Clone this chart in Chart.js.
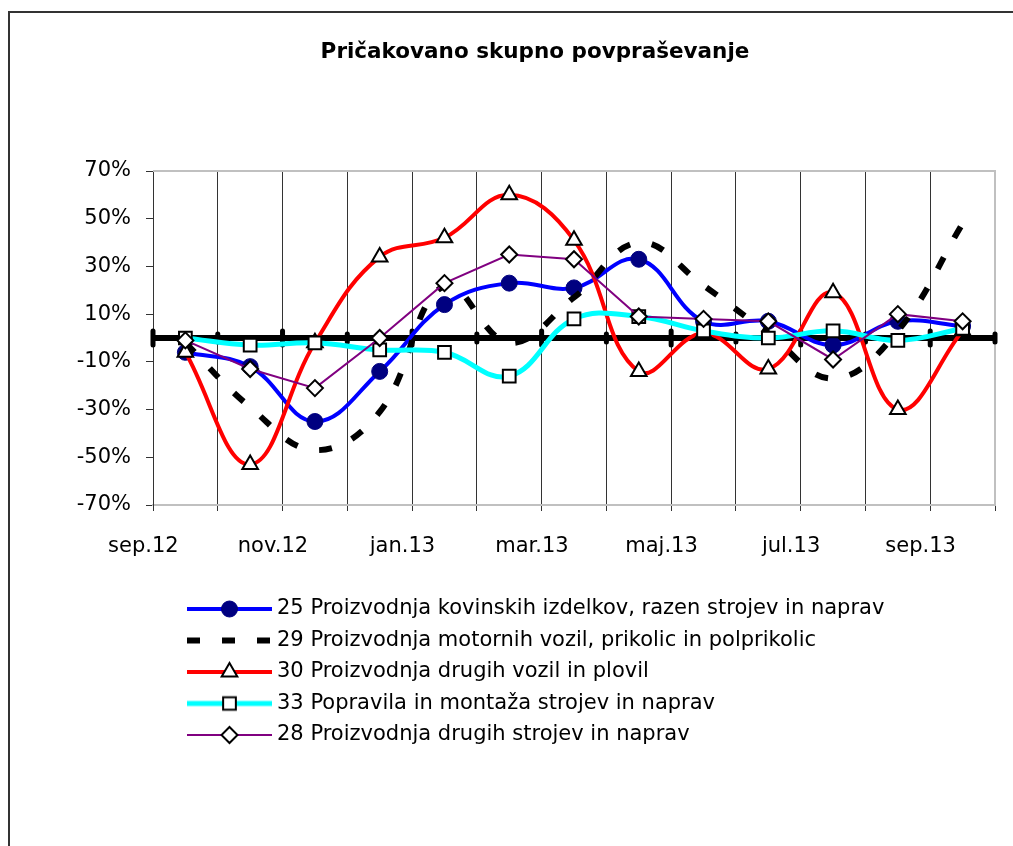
<!DOCTYPE html>
<html>
<head>
<meta charset="utf-8">
<script src="https://cdn.jsdelivr.net/npm/chart.js@4/dist/chart.umd.min.js"></script>
<style>
  html, body { margin: 0; padding: 0; background: #fff; overflow: hidden; }
  #frame { position: absolute; left: 8px; top: 11px; width: 1100px; height: 900px;
           border: 2px solid #333; pointer-events: none; }
  #myChart { position: absolute; left: 0; top: 0; }
</style>
</head>
<body>
<canvas id="myChart" width="1070" height="846"></canvas>
<div id="frame"></div>
<script>
var months = ['sep.12', 'okt.12', 'nov.12', 'dec.12', 'jan.13', 'feb.13', 'mar.13',
              'apr.13', 'maj.13', 'jun.13', 'jul.13', 'avg.13', 'sep.13'];
var kovinski25 = [-6, -12, -35, -14, 14, 23, 21, 33, 7, 7, -3, 7, 5];
var motorna29 = [-2, -29, -47, -31, 22, -2, 17, 40, 22, 2, -17, 3, 48];
var vozila30 = [-6, -53, -2, 34, 42, 60, 41, -14, 2, -13, 19, -30, 3];
var popravila33 = [0, -3, -2, -5, -6, -16, 8, 9, 3, 0, 3, -1, 4];
var stroji28 = [-1, -13, -21, 0, 23, 35, 33, 9, 8, 7, -9, 10, 7];

Chart.defaults.font.family = "'DejaVu Sans', Verdana, sans-serif";
Chart.defaults.font.size = 21;
Chart.defaults.color = '#000';

var datasets = [{
    label: '25 Proizvodnja kovinskih izdelkov, razen strojev in naprav',
    data: kovinski25,
    borderColor: '#0000ff',
    borderWidth: 4,
    tension: 0.4,
    pointStyle: 'circle',
    pointRadius: 8,
    pointBackgroundColor: '#000080',
    pointBorderColor: '#000080',
    pointBorderWidth: 1,
    order: 5
}, {
    label: '29 Proizvodnja motornih vozil, prikolic in polprikolic',
    data: motorna29,
    borderColor: '#000000',
    borderWidth: 6,
    borderDash: [13, 22],
    tension: 0.4,
    pointRadius: 0,
    order: 4
}, {
    label: '30 Proizvodnja drugih vozil in plovil',
    data: vozila30,
    borderColor: '#ff0000',
    borderWidth: 4,
    tension: 0.4,
    pointStyle: 'triangle',
    pointRadius: 9,
    pointBackgroundColor: '#ffffff',
    pointBorderColor: '#000000',
    pointBorderWidth: 2,
    order: 3
}, {
    label: '33 Popravila in montaža strojev in naprav',
    data: popravila33,
    borderColor: '#00ffff',
    borderWidth: 5,
    tension: 0.4,
    pointStyle: 'rect',
    pointRadius: 9,
    pointBackgroundColor: '#ffffff',
    pointBorderColor: '#000000',
    pointBorderWidth: 2,
    order: 2
}, {
    label: '28 Proizvodnja drugih strojev in naprav',
    data: stroji28,
    borderColor: '#800080',
    borderWidth: 2,
    tension: 0,
    pointStyle: 'rectRot',
    pointRadius: 8,
    pointBackgroundColor: '#ffffff',
    pointBorderColor: '#000000',
    pointBorderWidth: 2,
    order: 1
}];

// legend sample: line with marker in the middle, like excel
function makeIcon(ds) {
    var c = document.createElement('canvas');
    c.width = 114;
    c.height = 24;
    var g = c.getContext('2d');
    g.strokeStyle = ds.borderColor;
    g.lineWidth = ds.borderWidth;
    g.setLineDash(ds.borderDash || []);
    g.beginPath();
    g.moveTo(29, 12);
    g.lineTo(114, 12);
    g.stroke();
    g.setLineDash([]);
    if (!ds.pointRadius) return c;
    var cx = 71.5, cy = 12, r = ds.pointRadius;
    g.fillStyle = ds.pointBackgroundColor;
    g.strokeStyle = ds.pointBorderColor;
    g.lineWidth = ds.pointBorderWidth;
    g.beginPath();
    if (ds.pointStyle === 'circle') {
        g.arc(cx, cy, r, 0, Math.PI * 2);
    } else if (ds.pointStyle === 'triangle') {
        g.moveTo(cx, cy - r);
        g.lineTo(cx + r * Math.sin(Math.PI * 2 / 3), cy - r * Math.cos(Math.PI * 2 / 3));
        g.lineTo(cx + r * Math.sin(Math.PI * 4 / 3), cy - r * Math.cos(Math.PI * 4 / 3));
    } else if (ds.pointStyle === 'rect') {
        var s = r * Math.SQRT1_2;
        g.rect(cx - s, cy - s, 2 * s, 2 * s);
    } else {
        g.moveTo(cx, cy - r);
        g.lineTo(cx + r, cy);
        g.lineTo(cx, cy + r);
        g.lineTo(cx - r, cy);
    }
    g.closePath();
    g.fill();
    g.stroke();
    return c;
}
var icons = datasets.map(makeIcon);

// thick zero line with the crossing tick marks and the grey plot border
var excelAxis = {
    id: 'excelAxis',
    beforeDatasetsDraw: function(chart) {
        var ctx = chart.ctx, a = chart.chartArea;
        var x = chart.scales.x, y = chart.scales.y;
        ctx.save();
        ctx.strokeStyle = '#c0c0c0';
        ctx.lineWidth = 2;
        ctx.beginPath();
        ctx.moveTo(a.left, a.top);
        ctx.lineTo(a.right, a.top);
        ctx.lineTo(a.right, a.bottom);
        ctx.stroke();

        var y0 = y.getPixelForValue(0);
        ctx.strokeStyle = '#000';
        ctx.lineWidth = 6;
        ctx.beginPath();
        ctx.moveTo(a.left, y0);
        ctx.lineTo(a.right, y0);
        ctx.stroke();

        var step = x.getPixelForValue(1) - x.getPixelForValue(0);
        ctx.lineWidth = 5;
        ctx.lineCap = 'round';
        for (var i = 0; i <= months.length; i++) {
            var bx = x.getPixelForValue(0) - step / 2 + i * step;
            var h = i % 2 === 0 ? 7 : 4;
            ctx.beginPath();
            ctx.moveTo(bx, y0 - h);
            ctx.lineTo(bx, y0 + h);
            ctx.stroke();
        }
        ctx.restore();
    }
};

var ctx = document.getElementById('myChart');

var chart = new Chart(ctx, {
    type: 'line',
    data: {
        labels: months,
        datasets: datasets
    },
    plugins: [excelAxis],
    options: {
        responsive: false,
        animation: false,
        layout: {
            padding: { left: 75, right: 75, top: 0, bottom: 90.5 }
        },
        plugins: {
            title: {
                display: true,
                text: 'Pričakovano skupno povpraševanje',
                color: '#000',
                font: { size: 21.5, weight: 'bold' },
                padding: { top: 39.1, bottom: 106.1 }
            },
            legend: {
                position: 'bottom',
                align: 'start',
                fullSize: false,
                labels: {
                    usePointStyle: true,
                    pointStyleWidth: 103,
                    padding: 10.5,
                    color: '#000',
                    font: { size: 21 },
                    generateLabels: function(chart) {
                        return chart.data.datasets.map(function(ds, i) {
                            return {
                                text: ds.label,
                                pointStyle: icons[i],
                                datasetIndex: i,
                                hidden: false,
                                lineWidth: 0,
                                strokeStyle: 'transparent',
                                fillStyle: 'transparent',
                                fontColor: '#000'
                            };
                        });
                    }
                }
            },
            tooltip: { enabled: false }
        },
        scales: {
            x: {
                offset: true,
                afterFit: function(scale) { scale.height = 83; },
                grid: {
                    offset: true,
                    color: function(c) { return c.tick ? '#333' : '#c0c0c0'; },
                    lineWidth: 1,
                    tickLength: 6,
                    tickColor: '#333'
                },
                border: { color: '#c0c0c0', width: 2 },
                ticks: {
                    autoSkip: false,
                    maxRotation: 0,
                    minRotation: 0,
                    padding: 23.4,
                    labelOffset: -42,
                    font: { size: 21 },
                    callback: function(val, i) {
                        return i % 2 === 0 ? months[i] : '';
                    }
                }
            },
            y: {
                min: -70,
                max: 70,
                afterFit: function(scale) { scale.width = 78; },
                grid: {
                    drawOnChartArea: false,
                    tickLength: 7,
                    tickColor: '#333'
                },
                border: { color: '#333', width: 1 },
                ticks: {
                    stepSize: 20,
                    padding: 15,
                    font: { size: 21 },
                    callback: function(v) { return v + '%'; }
                }
            }
        }
    }
});
</script>
</body>
</html>
